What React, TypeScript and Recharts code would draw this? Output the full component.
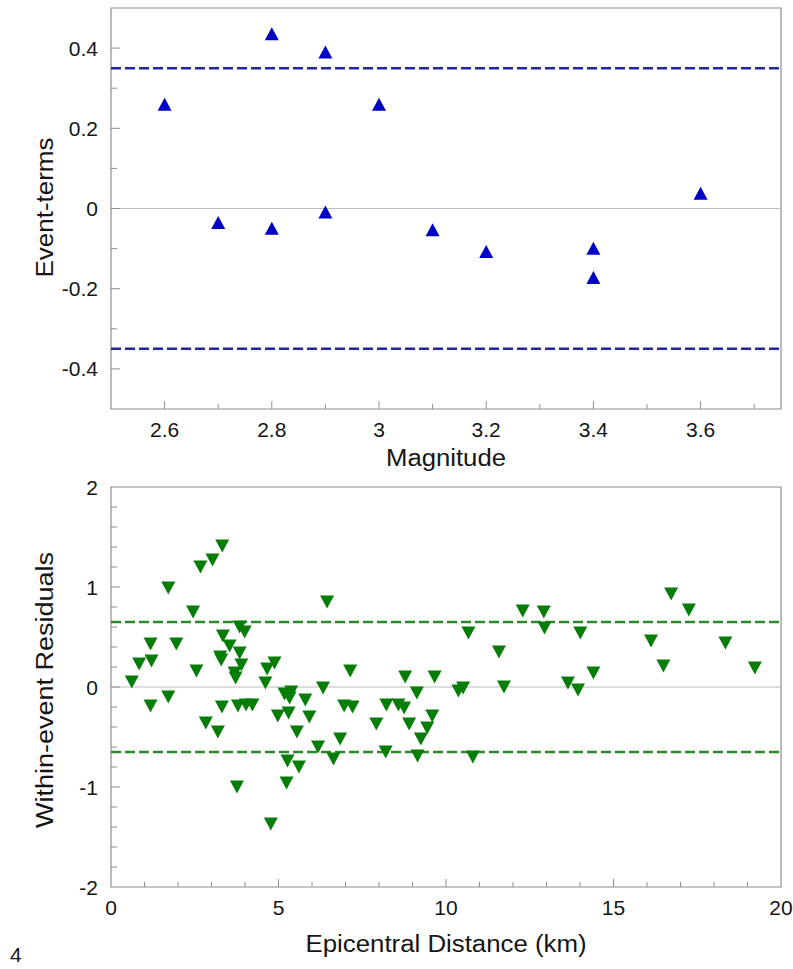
import { ScatterChart, Scatter, XAxis, YAxis, ReferenceLine, ReferenceArea, Label } from 'recharts'

// top panel: event terms vs magnitude
const magnitudes = [2.6, 2.7, 2.8, 2.8, 2.9, 2.9, 3.0, 3.1, 3.2, 3.4, 3.4, 3.6]
const eventTerms = [0.26, -0.035, 0.436, -0.049, 0.39, -0.009, 0.26, -0.053, -0.107, -0.099, -0.172, 0.038]
const magTicks = [2.6, 2.7, 2.8, 2.9, 3, 3.1, 3.2, 3.3, 3.4, 3.5, 3.6, 3.7]
const magLabels = [2.6, 2.8, 3, 3.2, 3.4, 3.6]
const termTicks = [-0.4, -0.3, -0.2, -0.1, 0, 0.1, 0.2, 0.3, 0.4]
const termLabels = [-0.4, -0.2, 0, 0.2, 0.4]
const tau = 0.35

// bottom panel: within-event residuals vs distance
const distances = [
  0.62, 0.84, 1.18, 1.21, 1.18, 1.71, 1.71, 1.95, 2.45, 2.55,
  2.67, 2.83, 3.03, 3.19, 3.32, 3.34, 3.26, 3.29, 3.31, 3.54,
  3.69, 3.72, 3.84, 3.89, 3.84, 3.99, 3.79, 4.03, 4.22, 3.76,
  4.61, 4.66, 4.88, 4.77, 4.98, 5.18, 5.30, 5.38, 5.33, 5.55,
  5.27, 5.61, 5.24, 5.80, 5.92, 6.18, 6.33, 6.45, 6.64, 6.84,
  6.96, 7.21, 7.14, 7.92, 8.22, 8.20, 8.58, 8.75, 8.78, 8.90,
  9.13, 9.15, 9.25, 9.44, 9.59, 9.66, 10.37, 10.51, 10.67, 10.80,
  11.58, 11.73, 12.29, 12.92, 12.94, 14.01, 13.64, 13.94, 14.40, 16.12,
  16.49, 16.72, 17.25, 18.34, 19.22,
]
const residuals = [
  0.05, 0.23, 0.43, 0.26, -0.19, 0.99, -0.10, 0.43, 0.75, 0.16,
  1.20, -0.36, 1.27, -0.45, 1.41, 0.51, 0.30, 0.27, -0.20, 0.41,
  0.14, 0.09, 0.34, 0.22, 0.60, 0.55, -0.19, -0.18, -0.18, -1.00,
  0.04, 0.18, 0.24, -1.37, -0.29, -0.07, -0.26, -0.05, -0.11, -0.45,
  -0.74, -0.80, -0.96, -0.13, -0.30, -0.60, -0.01, 0.85, -0.72, -0.52,
  -0.19, -0.20, 0.16, -0.37, -0.18, -0.65, -0.18, -0.21, 0.10, -0.37,
  -0.06, -0.69, -0.52, -0.41, -0.29, 0.10, -0.04, -0.01, 0.54, -0.70,
  0.35, 0.00, 0.76, 0.75, 0.59, 0.54, 0.04, -0.03, 0.14, 0.46,
  0.21, 0.93, 0.77, 0.44, 0.19,
]
const distTicks = [1, 2, 3, 4, 5, 6, 7, 8, 9, 10, 11, 12, 13, 14, 15, 16, 17, 18, 19]
const distLabels = [0, 5, 10, 15, 20]
const residTicks = [-2, -1.8, -1.6, -1.4, -1.2, -1, -0.8, -0.6, -0.4, -0.2, 0, 0.2, 0.4, 0.6, 0.8, 1, 1.2, 1.4, 1.6, 1.8, 2]
const residLabels = [-2, -1, 0, 1, 2]
const phi = 0.65

const FONT = '"Liberation Sans", Arial, sans-serif'
const BOX = '#8e8e8e'
const TEXT = '#151515'

const termData = magnitudes.map((m, i) => ({ x: m, y: eventTerms[i] }))
const residData = distances.map((d, i) => ({ x: d, y: residuals[i] }))

const XTick = ({ x, y, payload, labels, edge }: any) => {
  const major = labels.includes(payload.value)
  return (
    <g>
      {!edge?.includes(payload.value) && (
        <line x1={x} x2={x} y1={y} y2={y - (major ? 8 : 5)} stroke={BOX} />
      )}
      {major && (
        <text x={x} y={y + 28} textAnchor="middle" fontSize={21} fontFamily={FONT} fill={TEXT}>
          {String(payload.value)}
        </text>
      )}
    </g>
  )
}

const YTick = ({ x, y, payload, labels, edge }: any) => {
  const major = labels.includes(payload.value)
  return (
    <g>
      {!edge?.includes(payload.value) && (
        <line x1={x} x2={x + (major ? 9 : 6)} y1={y} y2={y} stroke={BOX} />
      )}
      {major && (
        <text x={x - 13} y={y + 7.5} textAnchor="end" fontSize={21} fontFamily={FONT} fill={TEXT}>
          {String(payload.value)}
        </text>
      )}
    </g>
  )
}

const XTitle = ({ viewBox, text, dy, len }: any) => {
  const { x = 0, y = 0, width = 0 } = viewBox || {}
  return (
    <text x={x + width / 2} y={y + dy} textAnchor="middle" fontSize={23} fontFamily={FONT} fill={TEXT}
      textLength={len} lengthAdjust="spacingAndGlyphs">
      {text}
    </text>
  )
}

const YTitle = ({ viewBox, text, bx, dy, len }: any) => {
  const { y = 0, height = 0 } = viewBox || {}
  const cy = y + height / 2 + dy
  return (
    <text x={bx} y={cy} transform={`rotate(-90, ${bx}, ${cy})`} textAnchor="middle" fontSize={23}
      fontFamily={FONT} fill={TEXT} textLength={len} lengthAdjust="spacingAndGlyphs">
      {text}
    </text>
  )
}

const TriUp = ({ cx, cy }: any) => (
  <polygon points={`${cx},${cy - 6.5} ${cx - 7},${cy + 6.5} ${cx + 7},${cy + 6.5}`} fill="#0000c4" />
)

const TriDown = ({ cx, cy }: any) => (
  <polygon points={`${cx - 7},${cy - 6.5} ${cx + 7},${cy - 6.5} ${cx},${cy + 6.5}`} fill="#067d06" />
)

export default function App() {
  return (
    <div style={{ position: 'absolute', left: 0, top: 0, width: 793, height: 969, background: '#fff', overflow: 'hidden' }}>
      <div style={{ position: 'absolute', left: 0, top: 0 }}>
        <ScatterChart width={793} height={480} margin={{ top: 8, right: 12, bottom: 41, left: 51 }}>
          <XAxis dataKey="x" type="number" domain={[2.5, 3.75]} ticks={magTicks} interval={0}
            axisLine={false} tickLine={false} tickSize={0} tickMargin={0} height={30}
            tick={(p: any) => <XTick {...p} labels={magLabels} />}>
            <Label content={(p: any) => <XTitle viewBox={p.viewBox} text="Magnitude" dy={57} len={120} />} />
          </XAxis>
          <YAxis dataKey="y" type="number" domain={[-0.5, 0.5]} ticks={termTicks} interval={0}
            axisLine={false} tickLine={false} tickSize={0} tickMargin={0} width={60}
            tick={(p: any) => <YTick {...p} labels={termLabels} />}>
            <Label content={(p: any) => <YTitle viewBox={p.viewBox} text="Event-terms" bx={53} dy={-1} len={140} />} />
          </YAxis>
          <ReferenceArea x1={2.5} x2={3.75} y1={-0.5} y2={0.5} fill="#fff" fillOpacity={0} stroke={BOX} strokeWidth={1.2} />
          <ReferenceLine y={0} stroke="#bcbcbc" strokeWidth={1} />
          <ReferenceLine y={tau} stroke="#25259e" strokeWidth={2.5} strokeDasharray="10 4" />
          <ReferenceLine y={-tau} stroke="#25259e" strokeWidth={2.5} strokeDasharray="10 4" />
          <Scatter data={termData} isAnimationActive={false} shape={(p: any) => <TriUp cx={p.cx} cy={p.cy} />} />
        </ScatterChart>
      </div>
      <div style={{ position: 'absolute', left: 0, top: 466 }}>
        <ScatterChart width={793} height={503} margin={{ top: 21, right: 12, bottom: 52, left: 51 }}>
          <XAxis dataKey="x" type="number" domain={[0, 20]} ticks={[0, ...distTicks, 20]} interval={0}
            axisLine={false} tickLine={false} tickSize={0} tickMargin={0} height={30}
            tick={(p: any) => <XTick {...p} labels={distLabels} edge={[0, 20]} />}>
            <Label content={(p: any) => <XTitle viewBox={p.viewBox} text="Epicentral Distance (km)" dy={65} len={281} />} />
          </XAxis>
          <YAxis dataKey="y" type="number" domain={[-2, 2]} ticks={residTicks} interval={0}
            axisLine={false} tickLine={false} tickSize={0} tickMargin={0} width={60}
            tick={(p: any) => <YTick {...p} labels={residLabels} edge={[-2, 2]} />}>
            <Label content={(p: any) => <YTitle viewBox={p.viewBox} text="Within-event Residuals" bx={53} dy={3} len={276} />} />
          </YAxis>
          <ReferenceArea x1={0} x2={20} y1={-2} y2={2} fill="#fff" fillOpacity={0} stroke={BOX} strokeWidth={1.2} />
          <ReferenceLine y={0} stroke="#bcbcbc" strokeWidth={1} />
          <ReferenceLine y={phi} stroke="#2a8a2a" strokeWidth={2.5} strokeDasharray="10 4" />
          <ReferenceLine y={-phi} stroke="#2a8a2a" strokeWidth={2.5} strokeDasharray="10 4" />
          <Scatter data={residData} isAnimationActive={false} shape={(p: any) => <TriDown cx={p.cx} cy={p.cy} />} />
        </ScatterChart>
      </div>
      <svg style={{ position: 'absolute', left: 0, top: 936 }} width={40} height={30}>
        <text x={10} y={26} fontSize={21} fontFamily={FONT} fill={TEXT}>4</text>
      </svg>
    </div>
  )
}
